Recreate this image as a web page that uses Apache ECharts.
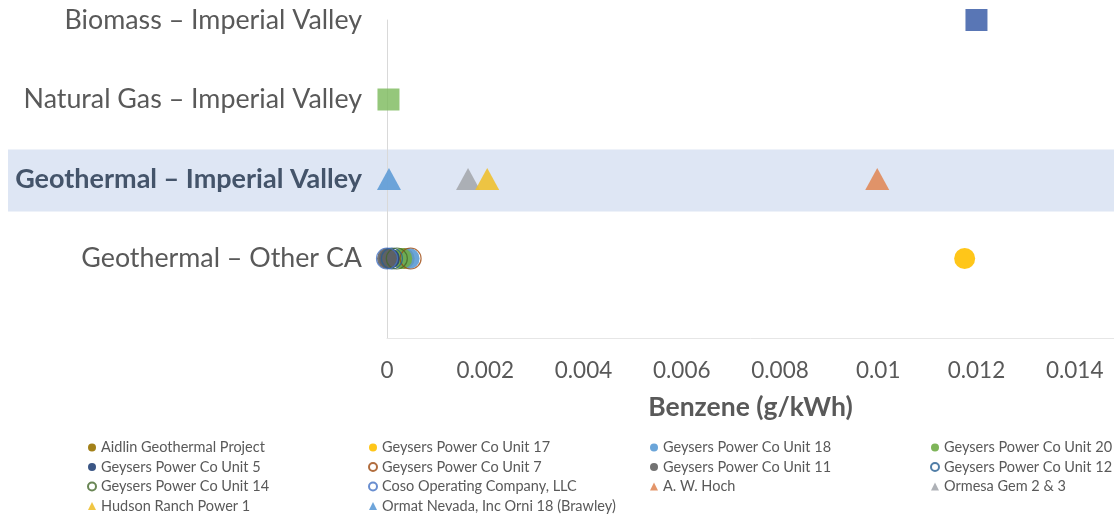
<!DOCTYPE html>
<html>
<head>
<meta charset="utf-8">
<script src="https://cdn.jsdelivr.net/npm/echarts@6/dist/echarts.min.js"></script>
<style>
  html, body { margin: 0; padding: 0; background: #ffffff; }
  #chart { width: 1114px; height: 514px; }
</style>
</head>
<body>
<div id="chart"></div>
<script>
// Row labels on the vertical axis (row 0 is the empty baseline)
const rowLabels = ['', 'Geothermal – Other CA', 'Geothermal – Imperial Valley', 'Natural Gas – Imperial Valley', 'Biomass – Imperial Valley'];

// Geothermal plants elsewhere in California (row 1)
const otherCANames = [
  'Aidlin Geothermal Project', 'Geysers Power Co Unit 17', 'Geysers Power Co Unit 18', 'Geysers Power Co Unit 20',
  'Geysers Power Co Unit 5', 'Geysers Power Co Unit 7', 'Geysers Power Co Unit 11', 'Geysers Power Co Unit 12',
  'Geysers Power Co Unit 14', 'Coso Operating Company, LLC'
];
const otherCAValues = [0.00035, 0.01176, 0.00045, 0.0003, 0.00005, 0.00048, 0.00001, 0.0001, 0.0002, 0.0];

// Geothermal plants in Imperial Valley (row 2)
const imperialGeoNames = ['A. W. Hoch', 'Ormesa Gem 2 & 3', 'Hudson Ranch Power 1', 'Ormat Nevada, Inc Orni 18 (Brawley)'];
const imperialGeoValues = [0.00998, 0.00165, 0.00204, 0.00004];

// Natural gas (row 3) and biomass (row 4) in Imperial Valley
const naturalGasValues = [0.00003];
const biomassValues = [0.0120];

// Marker styles per series
const markerStyle = {
  'Aidlin Geothermal Project': { color: '#997300' },
  'Geysers Power Co Unit 17': { color: '#FFC000' },
  'Geysers Power Co Unit 18': { color: '#5B9BD5' },
  'Geysers Power Co Unit 20': { color: '#70AD47' },
  'Geysers Power Co Unit 5': { color: '#264478' },
  'Geysers Power Co Unit 7': { color: '#9E480E', hollow: true },
  'Geysers Power Co Unit 11': { color: '#636363' },
  'Geysers Power Co Unit 12': { color: '#255E91', hollow: true },
  'Geysers Power Co Unit 14': { color: '#43682B', hollow: true },
  'Coso Operating Company, LLC': { color: '#4472C4', hollow: true },
  'A. W. Hoch': { color: '#E08A5A' },
  'Ormesa Gem 2 & 3': { color: '#A5A8AE' },
  'Hudson Ranch Power 1': { color: '#EEC030' },
  'Ormat Nevada, Inc Orni 18 (Brawley)': { color: '#5E9BD6' }
};

const FONT = 'Lato, "Liberation Sans", sans-serif';
const TEXT = '#595959';

function pointSeries(name, value, row, symbol, size) {
  const st = markerStyle[name] || {};
  return {
    name: name,
    type: 'scatter',
    symbol: symbol,
    symbolSize: size,
    data: [[value, row]],
    itemStyle: st.hollow
      ? { color: 'rgba(255,255,255,0)', borderColor: st.color, borderWidth: 1.2 }
      : { color: st.color, opacity: 0.9 },
    emphasis: { disabled: true },
    z: 3
  };
}

const series = [];
otherCANames.forEach((n, i) => series.push(pointSeries(n, otherCAValues[i], 1, 'circle', 21)));
imperialGeoNames.forEach((n, i) => series.push(pointSeries(n, imperialGeoValues[i], 2, 'triangle', [24, 22])));
series.push({
  name: 'Natural Gas', type: 'scatter', symbol: 'rect', symbolSize: 22,
  data: naturalGasValues.map(v => [v, 3]), itemStyle: { color: '#7AB95A' }, z: 3
});
series.push({
  name: 'Biomass', type: 'scatter', symbol: 'rect', symbolSize: 22,
  data: biomassValues.map(v => [v, 4]), itemStyle: { color: '#2F54A3' }, z: 3
});

// Legend laid out as four columns, read row by row
const legendColumns = [
  ['Aidlin Geothermal Project', 'Geysers Power Co Unit 5', 'Geysers Power Co Unit 14', 'Hudson Ranch Power 1'],
  ['Geysers Power Co Unit 17', 'Geysers Power Co Unit 7', 'Coso Operating Company, LLC', 'Ormat Nevada, Inc Orni 18 (Brawley)'],
  ['Geysers Power Co Unit 18', 'Geysers Power Co Unit 11', 'A. W. Hoch'],
  ['Geysers Power Co Unit 20', 'Geysers Power Co Unit 12', 'Ormesa Gem 2 & 3']
];
const legendLeft = [87, 368, 650, 930];
const legends = legendColumns.map((col, i) => ({
  orient: 'vertical',
  left: legendLeft[i],
  top: 440,
  height: 100,
  padding: 0,
  itemWidth: 8,
  itemHeight: 8,
  itemGap: 4.5,
  selectedMode: false,
  textStyle: { fontFamily: FONT, fontSize: 14.5, color: TEXT, padding: 0 },
  data: col
}));

const chart = echarts.init(document.getElementById('chart'), null, { renderer: 'canvas' });

chart.setOption({
  animation: false,
  backgroundColor: '#ffffff',
  grid: { left: 387, right: 0, top: 20, bottom: 176, containLabel: false },
  legend: legends,
  xAxis: {
    type: 'value',
    min: 0,
    max: 0.0148,
    interval: 0.002,
    name: 'Benzene (g/kWh)',
    nameLocation: 'middle',
    nameGap: 56,
    nameTextStyle: { fontFamily: FONT, fontSize: 26.5, fontWeight: 'bold', color: TEXT },
    axisLine: { show: true, lineStyle: { color: '#e6e6e6', width: 1 } },
    axisTick: { show: false },
    splitLine: { show: false },
    axisLabel: {
      margin: 21, fontFamily: FONT, fontSize: 22.5, color: TEXT,
      showMaxLabel: false,
      formatter: v => (v === 0 ? '0' : String(+v.toFixed(3)))
    }
  },
  yAxis: {
    type: 'value',
    min: 0,
    max: 4,
    interval: 1,
    axisLine: { show: true, lineStyle: { color: '#d9d9d9', width: 1 } },
    axisTick: { show: false },
    splitLine: { show: false },
    axisLabel: {
      margin: 25,
      fontFamily: FONT, fontSize: 26.8, color: TEXT,
      formatter: v => {
        const label = rowLabels[v] || '';
        return v === 2 ? '{hl|' + label + '}' : label;
      },
      rich: {
        hl: { fontFamily: FONT, fontSize: 27, fontWeight: 'bold', color: '#44546A' }
      }
    }
  },
  series: series
});

// Highlight band behind the Imperial Valley geothermal row
const bandTop = chart.convertToPixel({ yAxisIndex: 0 }, 2.37);
const bandBottom = chart.convertToPixel({ yAxisIndex: 0 }, 1.59);
chart.setOption({
  graphic: [{
    type: 'rect',
    z: -10,
    silent: true,
    shape: { x: 8, y: bandTop, width: chart.getWidth() - 8, height: bandBottom - bandTop },
    style: { fill: '#DEE6F4' }
  }]
});
</script>
</body>
</html>
